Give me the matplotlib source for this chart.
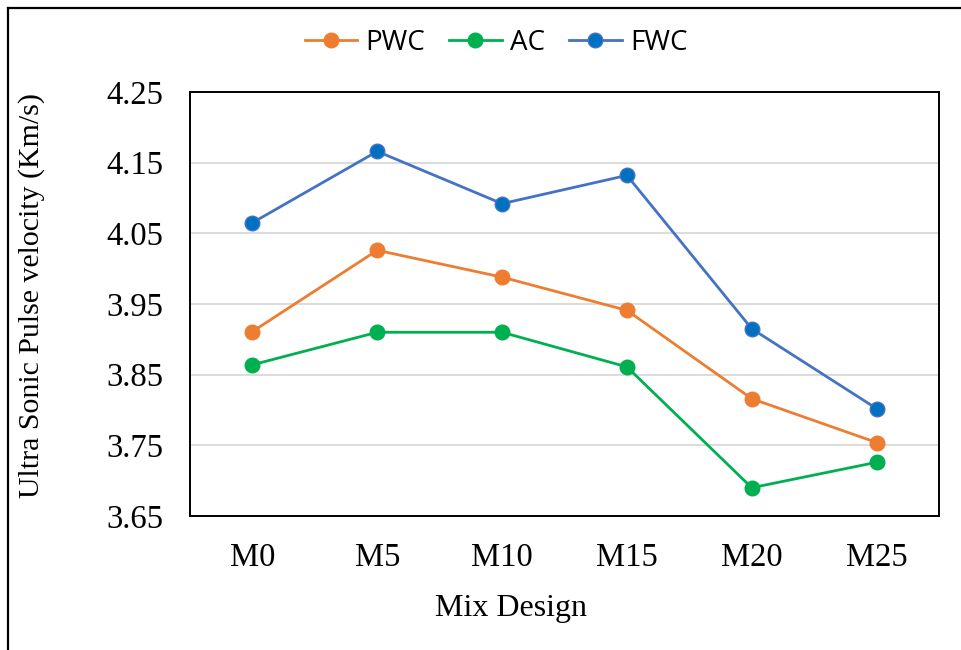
import matplotlib
matplotlib.use("Agg")
import matplotlib.pyplot as plt
from matplotlib.lines import Line2D
import numpy as np

categories = ["M0", "M5", "M10", "M15", "M20", "M25"]
pwc = [3.911, 4.026, 3.988, 3.941, 3.816, 3.754]
ac = [3.864, 3.910, 3.910, 3.861, 3.690, 3.726]
fwc = [4.065, 4.166, 4.092, 4.132, 3.915, 3.802]
yticks = [3.65, 3.75, 3.85, 3.95, 4.05, 4.15, 4.25]

W, H = 961, 650
fig = plt.figure(figsize=(W/100, H/100), dpi=100)
ax = fig.add_axes([190/W, 134/H, 749/W, 424/H])

x = np.arange(len(categories))
ax.plot(x, pwc, color="#ED7D31", lw=2, marker="o", ms=10.5, mfc="#ED7D31", mec="#ED7D31", label="PWC", zorder=3)
ax.plot(x, ac, color="#00B050", lw=2, marker="o", ms=10.5, mfc="#00B050", mec="#00B050", label="AC", zorder=3)
ax.plot(x, fwc, color="#4472C4", lw=2, marker="o", ms=10.5, mfc="#0070C0", mec="#4472C4", label="FWC", zorder=3)

ax.set_xlim(-0.5, len(categories) - 0.5)
ax.set_ylim(3.65, 4.25)
ax.set_yticks(yticks)
ax.set_yticklabels([f"{v:.2f}" for v in yticks])
ax.set_xticks(x)
ax.set_xticklabels(categories)
ax.yaxis.grid(True, color="#D9D9D9", lw=1.3)
ax.set_axisbelow(True)
ax.tick_params(length=0)
ax.tick_params(axis="y", pad=19.5)
ax.tick_params(axis="x", pad=19)
for lab in ax.get_xticklabels() + ax.get_yticklabels():
    lab.set_fontfamily("Liberation Serif")
    lab.set_fontsize(23.5)
for s in ax.spines.values():
    s.set_color("black")
    s.set_linewidth(1.4)

ax.set_xlabel("Mix Design", fontfamily="Liberation Serif", fontsize=23)
ax.xaxis.set_label_coords((511 - 190) / 749, (516 - 594) / 424)
ax.set_ylabel("Ultra Sonic Pulse velocity (Km/s)", fontfamily="Liberation Serif", fontsize=21.5)
ax.yaxis.set_label_coords((45 - 190) / 749, (516 - 296) / 424)

leg = fig.legend(loc="center", bbox_to_anchor=(496/W, 1 - 43/H), ncol=3, frameon=False,
                 prop={"family": "Open Sans", "size": 20}, handlelength=1.9, columnspacing=0.85,
                 handletextpad=0.3)

# outer frame (top and left edges visible in the reference)
fig.add_artist(Line2D([8/W, 8/W], [0, 1 - 8/H], transform=fig.transFigure, color="black", lw=1.6))
fig.add_artist(Line2D([8/W, 1], [1 - 8/H, 1 - 8/H], transform=fig.transFigure, color="black", lw=1.6))

fig.savefig("out.png", dpi=100)
